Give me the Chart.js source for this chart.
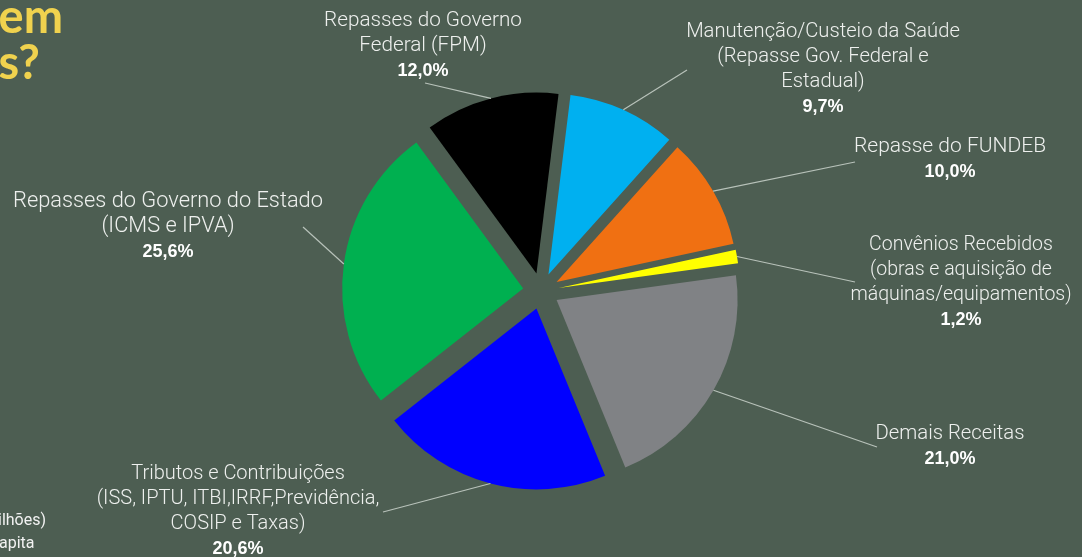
<!DOCTYPE html>
<html>
<head>
    <title>Receitas</title>
    <script src="https://cdn.jsdelivr.net/npm/chart.js"></script>
    <style>
        body { margin: 0; background: #4d5e52; overflow: hidden; }
        #wrap { position: relative; width: 1082px; height: 557px; }
        .title { position: absolute; color: #f0d24e; font-family: Lato, sans-serif; font-weight: 700; font-size: 47px; line-height: 47px; white-space: nowrap; }
        .note { position: absolute; color: #f2f2f2; font-family: Roboto, sans-serif; font-size: 16px; line-height: 18px; white-space: nowrap; }
    </style>
</head>
<body>
<div id="wrap">
    <canvas id="myChart" width="1082" height="557"></canvas>
    <div class="title" style="right:1019px; top:-8px;">vem</div>
    <div class="title" style="right:1042px; top:38px;">s?</div>
    <div class="note" style="left:-2px; top:511px;">ilhões)</div>
    <div class="note" style="left:-1px; top:534px;">apita</div>
</div>

<script>
    // data (clockwise from the top)
    const categories = [
        'Manutenção/Custeio da Saúde\n(Repasse Gov. Federal e\nEstadual)',
        'Repasse do FUNDEB',
        'Convênios Recebidos\n(obras e aquisição de\nmáquinas/equipamentos)',
        'Demais Receitas',
        'Tributos e Contribuições\n(ISS, IPTU, ITBI,IRRF,Previdência,\nCOSIP e Taxas)',
        'Repasses do Governo do Estado\n(ICMS e IPVA)',
        'Repasses do Governo\nFederal (FPM)'
    ];
    const shares = [9.7, 10.0, 1.2, 21.0, 20.6, 25.6, 12.0];
    const colors = ['#00b0f0', '#f07012', '#ffff00', '#808285', '#0000ff', '#00b050', '#000000'];

    // label placement: text centre x, first line y, font size, and where the leader line ends
    const labelPos = [
        { x: 823, y: 32, size: 20.2, lx: 687, ly: 70 },
        { x: 950, y: 147, size: 21, lx: 855, ly: 162 },
        { x: 961, y: 245, size: 19.5, lx: 855, ly: 282 },
        { x: 950, y: 434, size: 20.3, lx: 877, ly: 447 },
        { x: 238, y: 474, size: 20, lx: 383, ly: 512 },
        { x: 168, y: 202, size: 21.8, lx: 303, ly: 227 },
        { x: 423, y: 21, size: 20.7, lx: 425, ly: 83 }
    ];

    const EXPLODE = 18;   // pixels each slice is pulled out
    const LINE_H = 25;

    // pull every slice outward along its middle angle (same radius for all)
    const explodePlugin = {
        id: 'explode',
        afterDatasetUpdate(chart, args) {
            chart.getDatasetMeta(args.index).data.forEach(arc => {
                const mid = (arc.startAngle + arc.endAngle) / 2;
                arc.x += Math.cos(mid) * EXPLODE;
                arc.y += Math.sin(mid) * EXPLODE;
            });
        }
    };

    const labelPlugin = {
        id: 'pieLabels',
        afterDatasetsDraw(chart) {
            const ctx = chart.ctx;
            const arcs = chart.getDatasetMeta(0).data;
            ctx.save();
            arcs.forEach((arc, i) => {
                const mid = (arc.startAngle + arc.endAngle) / 2;
                const sx = arc.x + Math.cos(mid) * arc.outerRadius;
                const sy = arc.y + Math.sin(mid) * arc.outerRadius;
                const pos = labelPos[i];

                ctx.strokeStyle = '#b8c2ba';
                ctx.lineWidth = 1.2;
                ctx.beginPath();
                ctx.moveTo(sx, sy);
                ctx.lineTo(pos.lx, pos.ly);
                ctx.stroke();

                const lines = categories[i].split('\n');
                ctx.textAlign = 'center';
                ctx.textBaseline = 'middle';
                ctx.fillStyle = '#eef0ee';
                ctx.font = '300 ' + pos.size + 'px Roboto, sans-serif';
                lines.forEach((t, k) => ctx.fillText(t, pos.x, pos.y + k * LINE_H));
                ctx.fillStyle = '#ffffff';
                ctx.font = 'bold 18px "Liberation Sans", Arial, sans-serif';
                ctx.fillText(shares[i].toFixed(1).replace('.', ',') + '%', pos.x, pos.y + lines.length * LINE_H);
            });
            ctx.restore();
        }
    };

    const chartCtx = document.getElementById('myChart').getContext('2d');
    new Chart(chartCtx, {
        type: 'pie',
        data: {
            labels: categories,
            datasets: [{
                data: shares,
                backgroundColor: colors,
                borderWidth: 0,
                radius: 181
            }]
        },
        options: {
            responsive: false,
            animation: false,
            rotation: 7,
            layout: { padding: { top: 25, bottom: 0 } },
            plugins: {
                legend: { display: false },
                tooltip: { enabled: false }
            }
        },
        plugins: [explodePlugin, labelPlugin]
    });
</script>
</body>
</html>
